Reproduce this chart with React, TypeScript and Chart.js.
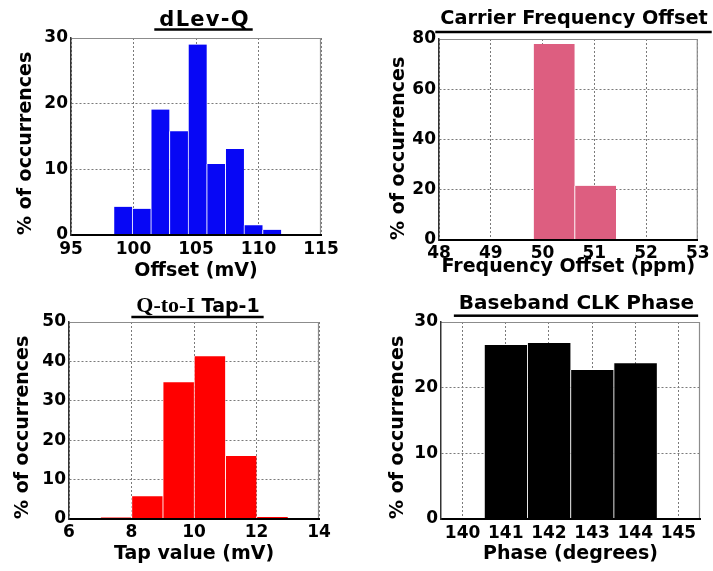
import React, { useEffect, useRef } from "react";
import { Chart, registerables } from "chart.js";

Chart.register(...registerables);

// ---------------- data ----------------
// dLev-Q histogram
const dlevCenters = [99.15, 100.64, 102.13, 103.62, 105.11, 106.6, 108.09, 109.58, 111.07];
const dlevPercent = [4.3, 4.0, 19.1, 15.8, 29.0, 10.8, 13.1, 1.5, 0.8];
const dlevXTicks = [95, 100, 105, 110, 115];
const dlevYTicks = [0, 10, 20, 30];

// Carrier Frequency Offset histogram
const cfoCenters = [50.22, 51.02];
const cfoPercent = [78.0, 21.6];
const cfoXTicks = [48, 49, 50, 51, 52, 53];
const cfoYTicks = [0, 20, 40, 60, 80];

// Q-to-I Tap-1 histogram
const tapCenters = [7.5, 8.5, 9.5, 10.5, 11.5, 12.5];
const tapPercent = [0.4, 5.8, 34.7, 41.3, 16.0, 0.5];
const tapXTicks = [6, 8, 10, 12, 14];
const tapYTicks = [0, 10, 20, 30, 40, 50];

// Baseband CLK Phase histogram
const clkCenters = [141, 142, 143, 144];
const clkPercent = [26.5, 26.8, 22.7, 23.7];
const clkXTicks = [140, 141, 142, 143, 144, 145];
const clkXRange = [139.5, 145.5];
const clkYTicks = [0, 10, 20, 30];

const yLabel = "% of occurrences";

// ---------------- styling / layout ----------------
const SANS = "'DejaVu Sans', 'Liberation Sans', sans-serif";
const SERIF = "'Liberation Serif', 'DejaVu Serif', serif";

type Seg = { text: string; font: string; spacing?: number };
type PanelDef = {
  id: string;
  left: number; top: number; w: number; h: number;
  area: { l: number; r: number; t: number; b: number };
  centers: number[]; values: number[];
  xTicks: number[]; yTicks: number[]; xRange: number[];
  color: string; edge: string;
  title: Seg[]; titleX: number; titleBase: number; lineY: number;
  xLabel: string; xTickPad: number; xTitlePad: number; yTitlePad: number;
};

const panels: PanelDef[] = [
  {
    id: "dlev", left: 0, top: 0, w: 356, h: 285,
    area: { l: 71, r: 321, t: 38, b: 235 },
    centers: dlevCenters, values: dlevPercent, xTicks: dlevXTicks, yTicks: dlevYTicks,
    xRange: [dlevXTicks[0], dlevXTicks[dlevXTicks.length - 1]],
    color: "#0707F5", edge: "rgba(255,255,255,0.85)",
    title: [{ text: "dLev-Q", font: `bold 21px ${SANS}`, spacing: 1.3 }],
    titleX: 204, titleBase: 26, lineY: 29.5,
    xLabel: "Offset (mV)", xTickPad: 4.6, xTitlePad: 3, yTitlePad: 14.4,
  },
  {
    id: "cfo", left: 356, top: 0, w: 357, h: 285,
    area: { l: 83, r: 342, t: 39, b: 240 },
    centers: cfoCenters, values: cfoPercent, xTicks: cfoXTicks, yTicks: cfoYTicks,
    xRange: [cfoXTicks[0], cfoXTicks[cfoXTicks.length - 1]],
    color: "#DD5E80", edge: "rgba(255,255,255,0.85)",
    title: [{ text: "Carrier Frequency Offset", font: `bold 19.3px ${SANS}` }],
    titleX: 218, titleBase: 24, lineY: 32,
    xLabel: "Frequency Offset (ppm)", xTickPad: 3.4, xTitlePad: 7, yTitlePad: 31.6,
  },
  {
    id: "tap", left: 0, top: 285, w: 356, h: 286,
    area: { l: 69, r: 319, t: 37, b: 234 },
    centers: tapCenters, values: tapPercent, xTicks: tapXTicks, yTicks: tapYTicks,
    xRange: [tapXTicks[0], tapXTicks[tapXTicks.length - 1]],
    color: "#FF0000", edge: "rgba(255,255,255,0.85)",
    title: [
      { text: "Q-to-I", font: `bold 22px ${SERIF}` },
      { text: " Tap-1", font: `bold 19px ${SANS}` },
    ],
    titleX: 198, titleBase: 27, lineY: 32,
    xLabel: "Tap value (mV)", xTickPad: 3.6, xTitlePad: 6, yTitlePad: 11.9,
  },
  {
    id: "clk", left: 356, top: 285, w: 357, h: 286,
    area: { l: 85, r: 344, t: 37, b: 234 },
    centers: clkCenters, values: clkPercent, xTicks: clkXTicks, yTicks: clkYTicks,
    xRange: clkXRange,
    color: "#000000", edge: "rgba(235,235,235,0.9)",
    title: [{ text: "Baseband CLK Phase", font: `bold 20px ${SANS}` }],
    titleX: 220.5, titleBase: 24.3, lineY: 30.7,
    xLabel: "Phase (degrees)", xTickPad: 4.7, xTitlePad: 5.5, yTitlePad: 30.6,
  },
];

// ---------------- plugins ----------------
const titlePlugin = {
  id: "panelTitle",
  afterDraw(chart: any, _args: any, opts: any) {
    const segs: Seg[] = opts.segments || [];
    if (!segs.length) return;
    const ctx = chart.ctx as CanvasRenderingContext2D;
    ctx.save();
    ctx.fillStyle = "#000";
    ctx.textAlign = "left";
    ctx.textBaseline = "alphabetic";
    const measure = (s: Seg) => {
      ctx.font = s.font;
      if (!s.spacing) return ctx.measureText(s.text).width;
      let w = 0;
      const chars = Array.from(s.text);
      chars.forEach((ch, i) => {
        w += ctx.measureText(ch).width + (i < chars.length - 1 ? s.spacing! : 0);
      });
      return w;
    };
    const widths = segs.map(measure);
    const total = widths.reduce((a, b) => a + b, 0);
    let x = opts.x - total / 2;
    const x0 = x;
    segs.forEach((s, i) => {
      ctx.font = s.font;
      if (!s.spacing) {
        ctx.fillText(s.text, x, opts.base);
      } else {
        let cx = x;
        for (const ch of Array.from(s.text)) {
          ctx.fillText(ch, cx, opts.base);
          cx += ctx.measureText(ch).width + s.spacing;
        }
      }
      x += widths[i];
    });
    ctx.fillRect(x0 - 5, opts.lineY - 1.25, total + 9, 2.5);
    ctx.restore();
  },
};

const framePlugin = {
  id: "plotFrame",
  afterDatasetsDraw(chart: any) {
    const { ctx, chartArea: a } = chart;
    ctx.save();
    ctx.strokeStyle = "#8c8c8c";
    ctx.lineWidth = 1.2;
    ctx.beginPath();
    ctx.moveTo(a.left, a.top + 0.5);
    ctx.lineTo(a.right - 0.5, a.top + 0.5);
    ctx.lineTo(a.right - 0.5, a.bottom);
    ctx.stroke();
    ctx.restore();
  },
};

function buildConfig(p: PanelDef): any {
  const tickFont = { family: SANS, size: 17, weight: "bold" as const };
  const titleFont = { family: SANS, size: 19, weight: "bold" as const };
  return {
    type: "bar",
    data: {
      datasets: [
        {
          data: p.centers.map((x, i) => ({ x, y: p.values[i] })),
          backgroundColor: p.color,
          borderColor: p.edge,
          borderWidth: { left: 1, right: 0, top: 0, bottom: 0 },
          borderSkipped: false,
          barPercentage: 1,
          categoryPercentage: 1,
        },
      ],
    },
    options: {
      animation: false,
      responsive: false,
      maintainAspectRatio: false,
      events: [],
      layout: {
        padding: { left: 0, top: p.area.t, right: p.w - p.area.r, bottom: 0 },
      },
      plugins: {
        legend: { display: false },
        tooltip: { enabled: false },
        title: { display: false },
        panelTitle: { segments: p.title, x: p.titleX, base: p.titleBase, lineY: p.lineY },
      },
      scales: {
        x: {
          type: "linear",
          min: p.xRange[0],
          max: p.xRange[1],
          offset: false,
          afterBuildTicks: (s: any) => {
            s.ticks = p.xTicks.map((v) => ({ value: v }));
          },
          afterFit: (s: any) => {
            s.height = p.h - p.area.b;
          },
          grid: { offset: false, color: "#7a7a7a", lineWidth: 1, drawTicks: false },
          border: { display: true, color: "#000", width: 2, dash: [2, 2], z: 1 },
          ticks: {
            color: "#000",
            font: tickFont,
            padding: p.xTickPad,
            autoSkip: false,
            maxRotation: 0,
          },
          title: {
            display: true,
            text: p.xLabel,
            color: "#000",
            font: titleFont,
            padding: { top: 0, bottom: p.xTitlePad },
          },
        },
        y: {
          type: "linear",
          min: p.yTicks[0],
          max: p.yTicks[p.yTicks.length - 1],
          afterBuildTicks: (s: any) => {
            s.ticks = p.yTicks.map((v) => ({ value: v }));
          },
          afterFit: (s: any) => {
            s.width = p.area.l;
          },
          grid: { color: "#7a7a7a", lineWidth: 1, drawTicks: false },
          border: { display: true, color: "#333", width: 1.5, dash: [2, 2], z: 1 },
          ticks: { color: "#000", font: tickFont, padding: 3, autoSkip: false },
          title: {
            display: true,
            text: yLabel,
            align: "start",
            color: "#000",
            font: titleFont,
            padding: { top: p.yTitlePad, bottom: 0 },
          },
        },
      },
    },
    plugins: [titlePlugin, framePlugin],
  };
}

function Panel({ p }: { p: PanelDef }) {
  const ref = useRef<HTMLCanvasElement>(null);
  useEffect(() => {
    if (!ref.current) return;
    const chart = new Chart(ref.current, buildConfig(p));
    return () => chart.destroy();
  }, [p]);
  return (
    <canvas
      ref={ref}
      width={p.w}
      height={p.h}
      style={{ position: "absolute", left: p.left, top: p.top, width: p.w, height: p.h }}
    />
  );
}

export default function App() {
  return (
    <div
      style={{
        position: "absolute",
        left: 0,
        top: 0,
        width: 713,
        height: 571,
        background: "#ffffff",
        overflow: "hidden",
      }}
    >
      {panels.map((p) => (
        <Panel key={p.id} p={p} />
      ))}
    </div>
  );
}
